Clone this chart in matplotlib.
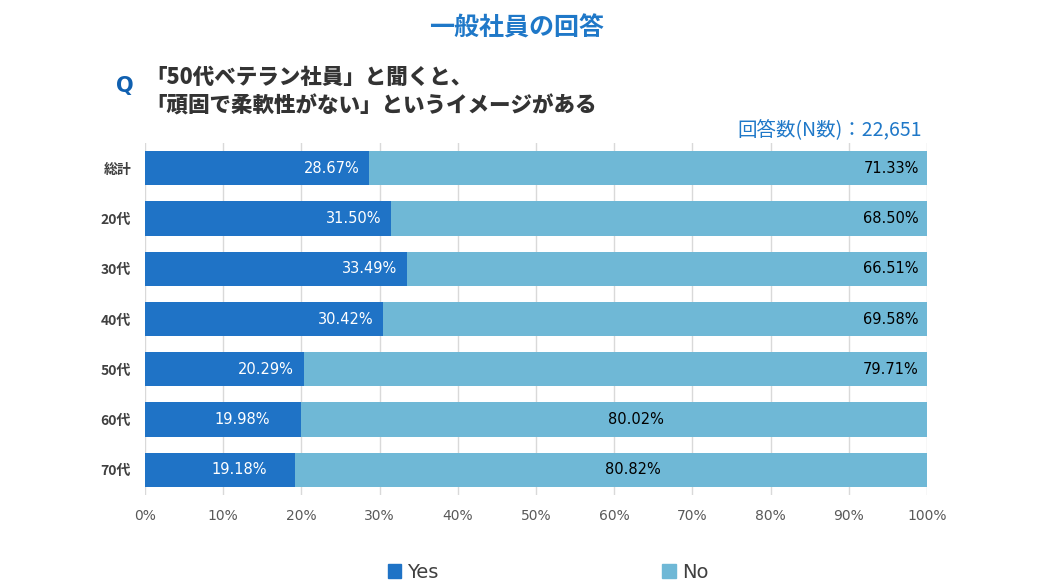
import matplotlib
matplotlib.use("Agg")
import matplotlib.pyplot as plt
import numpy as np

plt.rcParams['font.family'] = ['DejaVu Sans', 'Noto Sans CJK JP']

categories = ["総計", "20代", "30代", "40代", "50代", "60代", "70代"]
yes_vals = [28.67, 31.50, 33.49, 30.42, 20.29, 19.98, 19.18]
no_vals = [71.33, 68.50, 66.51, 69.58, 79.71, 80.02, 80.82]
label_mode = ["end", "end", "end", "end", "end", "center", "center"]
xticks = [0, 10, 20, 30, 40, 50, 60, 70, 80, 90, 100]

YES_C = "#1f73c6"
NO_C = "#6fb8d6"
BLUE_T = "#1f78c8"

fig = plt.figure(figsize=(10.41, 5.86), dpi=100)
ax = fig.add_axes([145/1041, 1-495/586, (927-145)/1041, (495-143)/586])

y = np.arange(len(categories))
ax.barh(y, yes_vals, height=0.68, color=YES_C, zorder=3)
ax.barh(y, no_vals, left=yes_vals, height=0.68, color=NO_C, zorder=3)

for i in range(len(categories)):
    yv, nv = yes_vals[i], no_vals[i]
    if label_mode[i] == "end":
        ax.annotate(f"{yv:.2f}%", (yv, i), xytext=(-7, 0), textcoords="offset points",
                    ha="right", va="center", color="white", fontsize=10.5, zorder=4)
        ax.annotate(f"{nv:.2f}%", (yv + nv, i), xytext=(-6, 0), textcoords="offset points",
                    ha="right", va="center", color="black", fontsize=10.5, zorder=4)
    else:
        ax.annotate(f"{yv:.2f}%", (yv / 2, i), xytext=(14, 0), textcoords="offset points",
                    ha="center", va="center", color="white", fontsize=10.5, zorder=4)
        ax.annotate(f"{nv:.2f}%", (yv + nv / 2, i), xytext=(16, 0), textcoords="offset points",
                    ha="center", va="center", color="black", fontsize=10.5, zorder=4)

ax.set_xlim(0, 100)
ax.set_ylim(len(categories) - 0.5, -0.5)
ax.set_xticks(xticks)
ax.set_xticklabels([f"{t}%" for t in xticks], color="#595959", fontsize=10)
ax.set_yticks(y)
ax.set_yticklabels(categories, fontsize=10, fontweight="bold", color="#404040",
                   family=['Noto Sans CJK JP'])
ax.tick_params(axis="both", length=0)
ax.tick_params(axis="x", pad=10)
ax.tick_params(axis="y", pad=10)
ax.grid(axis="x", color="#d9d9d9", linewidth=1, zorder=0)
for s in ax.spines.values():
    s.set_visible(False)

fig.text(517/1041, 1-28/586, "一般社員の回答", ha="center", va="center", color=BLUE_T,
         fontsize=18, fontweight="bold", family=['Noto Sans CJK JP'])
fig.text(125/1041, 1-86/586, "Q", ha="center", va="center", color="#1060b0",
         fontsize=15, fontweight="bold", family=['DejaVu Sans'])
fig.text(145/1041, 1-77/586, "「50代ベテラン社員」と聞くと、", ha="left", va="center", color="#333333",
         fontsize=15.5, fontweight="heavy", family=['Noto Sans CJK JP'])
fig.text(145/1041, 1-106/586, "「頑固で柔軟性がない」というイメージがある", ha="left", va="center",
         color="#333333", fontsize=15.5, fontweight="heavy", family=['Noto Sans CJK JP'])
fig.text(922/1041, 1-131/586, "回答数(N数)：22,651", ha="right", va="center", color=BLUE_T,
         fontsize=14, family=['Noto Sans CJK JP'])

from matplotlib.patches import Patch
handles = [Patch(color=YES_C, label="Yes"), Patch(color=NO_C, label="No")]
fig.legend(handles=handles, loc="center", bbox_to_anchor=(548/1041, 1-572/586), ncol=2,
           frameon=False, fontsize=14, handlelength=0.7, handleheight=0.7, handletextpad=0.3,
           columnspacing=11.5, labelcolor="#404040")

fig.savefig("out.png", dpi=100)
